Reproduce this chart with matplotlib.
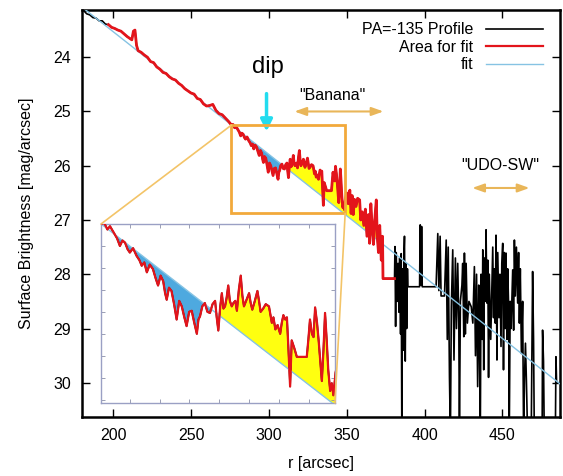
import numpy as np
import matplotlib
matplotlib.use("Agg")
import matplotlib.pyplot as plt
from matplotlib.patches import Rectangle, ConnectionPatch

plt.rcParams['font.family'] = ['Liberation Sans', 'DejaVu Sans']

# Surface brightness profile along PA=-135 (r in arcsec, mu in mag/arcsec)
r_prof = [181, 183, 185, 187, 189, 191, 193, 195, 197, 199, 201, 203, 205, 207, 209, 211, 212, 213, 214,
          215, 216, 218, 220, 222, 224, 226, 228, 230, 232, 234, 236, 238, 240, 242, 244, 246, 248, 250,
          252, 254, 256, 258, 260, 262, 264, 266, 268, 270, 272, 274, 276,
          277.0, 278.0, 278.8, 280.0, 281.0, 281.9, 282.7, 283.5, 284.3, 285.0, 286.0, 287.1, 288.0, 288.7,
          289.5, 290.3, 291.2, 292.2, 293.0, 293.8, 294.6, 295.4, 296.0, 296.5, 297.2, 298.0, 298.8, 299.6,
          300.4, 301.2, 302.0, 302.7, 303.5, 304.3, 305.1, 305.9, 306.4, 306.9, 307.6, 308.4, 309.2, 310.0,
          310.8, 311.6, 312.1, 312.6, 313.2, 313.7, 314.2, 314.7, 315.2, 315.7, 316.2, 316.8, 317.3, 317.9,
          318.4, 319.0, 319.6, 320.1, 320.6, 321.4, 322.2, 322.7, 323.2, 324.0, 324.8, 325.3, 325.8, 326.6,
          327.4, 328.4, 329.3, 329.8, 330.4, 331.1, 331.9, 332.4, 332.9, 333.5, 334.0, 334.5, 335.0, 335.5,
          336.3, 337.1, 338.0, 339.0, 340.2, 340.7, 341.2, 341.8, 342.3, 342.8, 343.4, 343.9, 344.4, 344.9,
          345.4, 345.9, 346.4, 346.9, 347.5, 348.0, 348.5, 349.2, 350.0, 351.0, 352.0, 352.8, 353.5, 354.2,
          355.0, 356.0, 357.0, 358.3, 359.0, 360.0, 361.0, 362.0, 363.0, 364.0, 364.7, 365.5, 366.5, 367.2,
          368.0, 369.0, 369.6, 370.4, 371.2, 372.2, 373.0, 373.3, 380.7,
          381.0, 381.4, 381.8, 382.5, 383.0, 383.6, 384.0, 384.6, 385.0, 385.4, 385.8, 386.3, 386.8, 387.1,
          387.6, 388.0, 388.5, 389.0, 389.3, 396.8, 397.2, 397.8, 398.1, 398.5, 407.4, 408.5, 409.2, 410.0,
          410.6, 412.8, 413.9, 414.6, 415.2, 416.0, 416.6, 417.2, 418.1, 418.9, 419.8, 420.5, 421.3, 422.0,
          422.4, 423.0, 424.0, 424.5, 425.2, 425.6, 426.2, 426.7, 427.5, 428.5, 430.0, 431.0, 432.0, 432.7,
          433.4, 434.1, 434.8, 435.2, 435.8, 436.3, 437.0, 437.4, 438.0, 438.4, 439.0, 439.5, 440.0, 440.6,
          441.1, 441.6, 442.5, 443.3, 443.8, 444.3, 444.8, 445.4, 445.9, 446.5, 447.0, 447.8, 448.4, 449.1,
          449.6, 450.2, 450.7, 451.2, 451.8, 452.3, 452.9, 453.4, 454.0, 454.4, 455.0, 455.6, 456.6, 457.2,
          457.7, 458.3, 459.0, 459.8, 460.4, 460.9, 461.5, 462.2, 463.0, 463.6, 464.2, 464.8, 465.4, 466.2,
          468.5, 469.4, 470.0, 470.5, 475.5, 475.8, 476.4, 476.9, 484.0, 484.4, 484.8, 487.0]
mu_prof = [23.14, 23.20, 23.22, 23.27, 23.28, 23.33, 23.33, 23.39, 23.40, 23.45, 23.47, 23.50, 23.52, 23.57,
           23.62, 23.66, 23.68, 23.52, 23.50, 23.78, 23.88, 23.91, 23.96, 24.00, 24.08, 24.10, 24.18, 24.22,
           24.28, 24.30, 24.36, 24.40, 24.42, 24.48, 24.52, 24.58, 24.62, 24.66, 24.68, 24.76, 24.78, 24.86,
           24.90, 24.89, 24.87, 24.98, 25.04, 25.06, 25.12, 25.18, 25.25,
           25.24, 25.30, 25.27, 25.33, 25.38, 25.45, 25.40, 25.42, 25.48, 25.51, 25.47, 25.54, 25.58, 25.63,
           25.60, 25.69, 25.62, 25.66, 25.74, 25.81, 25.72, 25.77, 25.88, 25.94, 25.83, 25.86, 25.98, 26.12,
           25.95, 26.00, 26.10, 26.18, 26.05, 26.04, 26.15, 26.25, 26.12, 26.09, 26.00, 25.97, 26.05, 26.06,
           25.98, 25.95, 26.10, 26.22, 26.00, 25.88, 26.02, 26.00, 25.92, 25.81, 25.95, 26.00, 25.97, 25.95,
           26.04, 25.85, 25.72, 25.90, 26.00, 25.94, 25.88, 25.97, 26.03, 25.95, 25.86, 25.95, 26.05, 26.02,
           25.98, 26.00, 26.15, 26.10, 26.21, 26.17, 26.25, 26.15, 26.08, 26.12, 26.10, 26.40, 26.73, 26.31,
           26.38, 26.46, 26.46, 26.46, 26.46, 26.30, 26.12, 26.25, 26.28, 26.01, 26.15, 26.31, 26.50, 26.68,
           26.40, 26.06, 26.30, 26.58, 26.77, 26.70, 26.81, 26.60, 26.50, 26.70, 26.45, 26.88, 26.55, 26.90,
           26.62, 26.75, 26.60, 26.63, 27.00, 26.85, 27.10, 26.80, 27.30, 26.90, 27.43, 26.70, 27.20, 27.45,
           27.00, 26.63, 27.30, 27.60, 27.10, 27.74, 27.30, 28.08, 28.08,
           27.49, 28.96, 27.60, 28.50, 27.80, 28.70, 27.70, 29.10, 27.62, 31.0, 27.90, 29.40, 27.60, 27.30,
           29.60, 27.80, 29.00, 27.90, 28.23, 28.23, 27.09, 28.20, 27.12, 28.23, 28.23, 27.25, 28.30, 27.30,
           28.40, 28.40, 27.37, 29.20, 27.50, 29.90, 31.0, 28.60, 27.55, 29.58, 27.70, 29.00, 27.80, 28.90,
           31.0, 28.50, 28.20, 27.80, 29.15, 27.61, 29.10, 27.80, 28.90, 28.50, 28.60, 28.90, 27.86, 29.50,
           28.00, 30.07, 28.20, 29.00, 31.0, 28.00, 29.20, 27.55, 29.76, 27.70, 28.50, 27.18, 28.53, 27.74,
           29.90, 28.00, 29.20, 28.10, 27.50, 28.80, 27.90, 28.90, 27.28, 29.58, 27.60, 28.80, 28.00, 29.33,
           27.80, 27.43, 29.76, 27.60, 29.00, 27.61, 29.20, 27.90, 28.60, 31.0, 28.50, 29.00, 27.92, 29.03,
           27.37, 28.40, 27.50, 28.53, 27.60, 28.90, 27.90, 29.46, 28.50, 31.0, 29.90, 29.27, 29.95, 31.0,
           31.0, 27.95, 29.20, 31.0, 31.0, 29.03, 29.60, 31.0, 31.0, 29.52, 30.00, 30.00]

# range used for the fit, and the straight-line fit itself
fit_range = (196, 380.7)
fit_r = [181, 487]
fit_mu = [23.10, 30.02]

# zoom box / feature ranges
box_r = (276, 349)
box_mu = (25.25, 26.88)
dip_r = (276, 312.5)
banana_r = (312, 372.5)

r_prof = np.array(r_prof)
mu_prof = np.array(mu_prof)
fit_at = np.interp(r_prof, fit_r, fit_mu)
in_fit = (r_prof >= fit_range[0]) & (r_prof <= fit_range[1])
in_dip = (r_prof >= dip_r[0]) & (r_prof <= dip_r[1])
in_ban = (r_prof >= banana_r[0]) & (r_prof <= banana_r[1])

c_black = 'black'
c_red = '#e3141b'
c_fit = '#86c3e3'
c_blue = '#4ea9df'
c_yel = '#ffff10'
c_orange = '#f2a93b'
c_arrow = '#e9b659'


def draw_profile(a, lw_red=2.0, lw_black=1.2):
    a.fill_between(r_prof, fit_at, mu_prof, where=in_dip & (mu_prof >= fit_at),
                   interpolate=True, color=c_blue, lw=0, zorder=1)
    a.fill_between(r_prof, fit_at, mu_prof, where=in_ban & (mu_prof <= fit_at),
                   interpolate=True, color=c_yel, lw=0, zorder=1)
    a.plot(r_prof, mu_prof, color=c_black, lw=lw_black, zorder=2, label='PA=-135 Profile')
    a.plot(r_prof[in_fit], mu_prof[in_fit], color=c_red, lw=lw_red, zorder=4, label='Area for fit')
    a.plot(fit_r, fit_mu, color=c_fit, lw=1.0, zorder=3, label='fit')


fig = plt.figure(figsize=(5.63, 4.76), dpi=100)
ax = fig.add_axes([0.1457, 0.124, 0.8490, 0.855])
draw_profile(ax)

ax.set_xlim(180, 487)
ax.set_ylim(30.63, 23.13)
ax.set_xticks([200, 250, 300, 350, 400, 450])
ax.set_yticks([24, 25, 26, 27, 28, 29, 30])
ax.tick_params(direction='in', length=6, width=1, top=True, right=True, labelsize=11.5, pad=8)
for s in ax.spines.values():
    s.set_linewidth(1.8)
ax.set_xlabel('r [arcsec]', fontsize=11.5, labelpad=9)
ax.set_ylabel('Surface Brightness [mag/arcsec]', fontsize=11.5, labelpad=14)

leg = ax.legend(loc='upper right', bbox_to_anchor=(0.995, 1.005), frameon=False, markerfirst=False,
                fontsize=11.5, handlelength=3.6, handletextpad=0.8, labelspacing=0.15)
leg.get_lines()[1].set_linewidth(1.6)

# zoom box and inset
ax.add_patch(Rectangle((box_r[0], box_mu[0]), box_r[1] - box_r[0], box_mu[1] - box_mu[0],
                       fill=False, ec=c_orange, lw=2, zorder=6))

axins = fig.add_axes([0.1794, 0.1534, 0.4156, 0.376])
draw_profile(axins, lw_red=1.6)
axins.set_xlim(*box_r)
axins.set_ylim(box_mu[1], box_mu[0])
axins.set_xticks(np.arange(285, 349, 9.3))
axins.set_yticks(np.arange(25.45, 26.88, 0.2))
axins.tick_params(direction='in', length=3, width=0.6, colors='#8a8fa8', top=True, right=True,
                  labelbottom=False, labelleft=False)
for s in axins.spines.values():
    s.set_color('#9aa0c4')
    s.set_linewidth(1.0)

for xa, xb in [((0, 1), (box_r[0], box_mu[0])), ((1, 0), (box_r[1], box_mu[1]))]:
    con = ConnectionPatch(xyA=xa, coordsA=axins.transAxes, xyB=xb, coordsB=ax.transData,
                          color='#f3c468', lw=1.2, zorder=5)
    fig.add_artist(con)

# annotations
ax.text(299.5, 24.18, 'dip', fontsize=17, ha='center', va='center')
ax.annotate('', xy=(298.5, 25.42), xytext=(298.5, 24.62),
            arrowprops=dict(arrowstyle='-|>,head_length=0.7,head_width=0.35', color='#22dcef', lw=2.5))
ax.text(341, 24.70, '"Banana"', fontsize=11.5, ha='center', va='center')
ax.annotate('', xy=(314.6, 25.0), xytext=(375.4, 25.0),
            arrowprops=dict(arrowstyle='<|-|>,head_length=0.7,head_width=0.25', color=c_arrow, lw=1.5))
ax.text(448.7, 26.0, '"UDO-SW"', fontsize=11.5, ha='center', va='center')
ax.annotate('', xy=(428.8, 26.41), xytext=(469.2, 26.41),
            arrowprops=dict(arrowstyle='<|-|>,head_length=0.7,head_width=0.25', color=c_arrow, lw=1.5))

fig.savefig('out.png', dpi=100)
